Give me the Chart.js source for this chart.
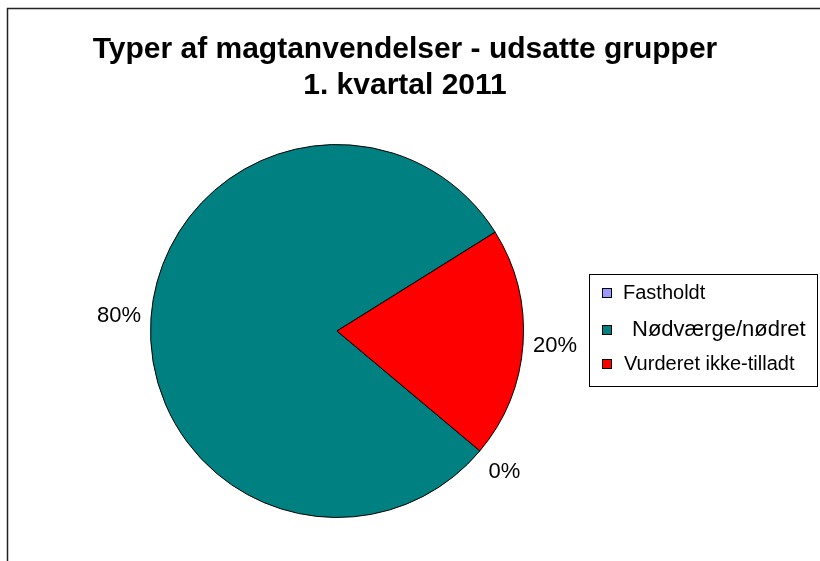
<!DOCTYPE html>
<html>
<head>
<meta charset="utf-8">
<script src="https://cdn.jsdelivr.net/npm/chart.js@4.4.0/dist/chart.umd.min.js"></script>
<style>
  html, body { margin: 0; padding: 0; background: #fff; }
  #wrap { width: 820px; height: 561px; }
</style>
</head>
<body>
<div id="wrap"><canvas id="pieChart" width="820" height="561"></canvas></div>
<script>
var categories = ["Fastholdt", "Nødværge/nødret", "Vurderet ikke-tilladt"];
var percentages = [0, 80, 20];
var sliceColors = ["#9999FF", "#008080", "#FF0000"];
var titleLines = ["Typer af magtanvendelser - udsatte grupper", "1. kvartal 2011"];
var legendFontSizes = [20, 22, 20];

// frame, title, percent labels and legend
var decorations = {
  id: "decorations",
  beforeDraw: function (chart) {
    var ctx = chart.ctx;
    ctx.save();
    ctx.fillStyle = "#fff";
    ctx.fillRect(0, 0, chart.width, chart.height);
    ctx.strokeStyle = "#222";
    ctx.lineWidth = 1.5;
    ctx.strokeRect(7.5, 8.5, 840, 600);
    ctx.restore();
  },
  afterDraw: function (chart) {
    var ctx = chart.ctx;
    ctx.save();
    ctx.fillStyle = "#000";
    ctx.textAlign = "center";
    ctx.textBaseline = "middle";
    ctx.font = "bold 30px 'Liberation Sans', Arial, sans-serif";
    ctx.fillText(titleLines[0], 405, 50);
    ctx.fillText(titleLines[1], 405, 86);

    // percent labels outside the slices
    ctx.font = "22px 'Liberation Sans', Arial, sans-serif";
    var meta = chart.getDatasetMeta(0);
    meta.data.forEach(function (arc, i) {
      var mid = (arc.startAngle + arc.endAngle) / 2;
      var r = arc.outerRadius + 32;
      ctx.fillText(percentages[i] + "%", arc.x + Math.cos(mid) * r, arc.y + Math.sin(mid) * r);
    });

    // legend box
    ctx.strokeStyle = "#000";
    ctx.lineWidth = 1;
    ctx.strokeRect(589.5, 274.5, 228, 112);
    var rows = [293, 330, 364];
    var textX = [623, 632, 624];
    ctx.textAlign = "left";
    categories.forEach(function (c, i) {
      ctx.fillStyle = sliceColors[i];
      ctx.fillRect(602.5, rows[i] - 4.5, 9, 9);
      ctx.strokeRect(602.5, rows[i] - 4.5, 9, 9);
      ctx.fillStyle = "#000";
      ctx.font = legendFontSizes[i] + "px 'Liberation Sans', Arial, sans-serif";
      ctx.fillText(c, textX[i], rows[i]);
    });
    ctx.restore();
  }
};

var ctxP = document.getElementById("pieChart").getContext("2d");
var myPieChart = new Chart(ctxP, {
  type: "pie",
  data: {
    labels: categories,
    datasets: [
      {
        data: percentages,
        backgroundColor: sliceColors,
        borderColor: "#000",
        borderWidth: 1,
      },
    ],
  },
  options: {
    responsive: false,
    animation: false,
    rotation: 130,
    layout: {
      padding: { left: 150, right: 296, top: 144, bottom: 43 },
    },
    plugins: {
      legend: { display: false },
      tooltip: { enabled: false },
    },
  },
  plugins: [decorations],
});
</script>
</body>
</html>
